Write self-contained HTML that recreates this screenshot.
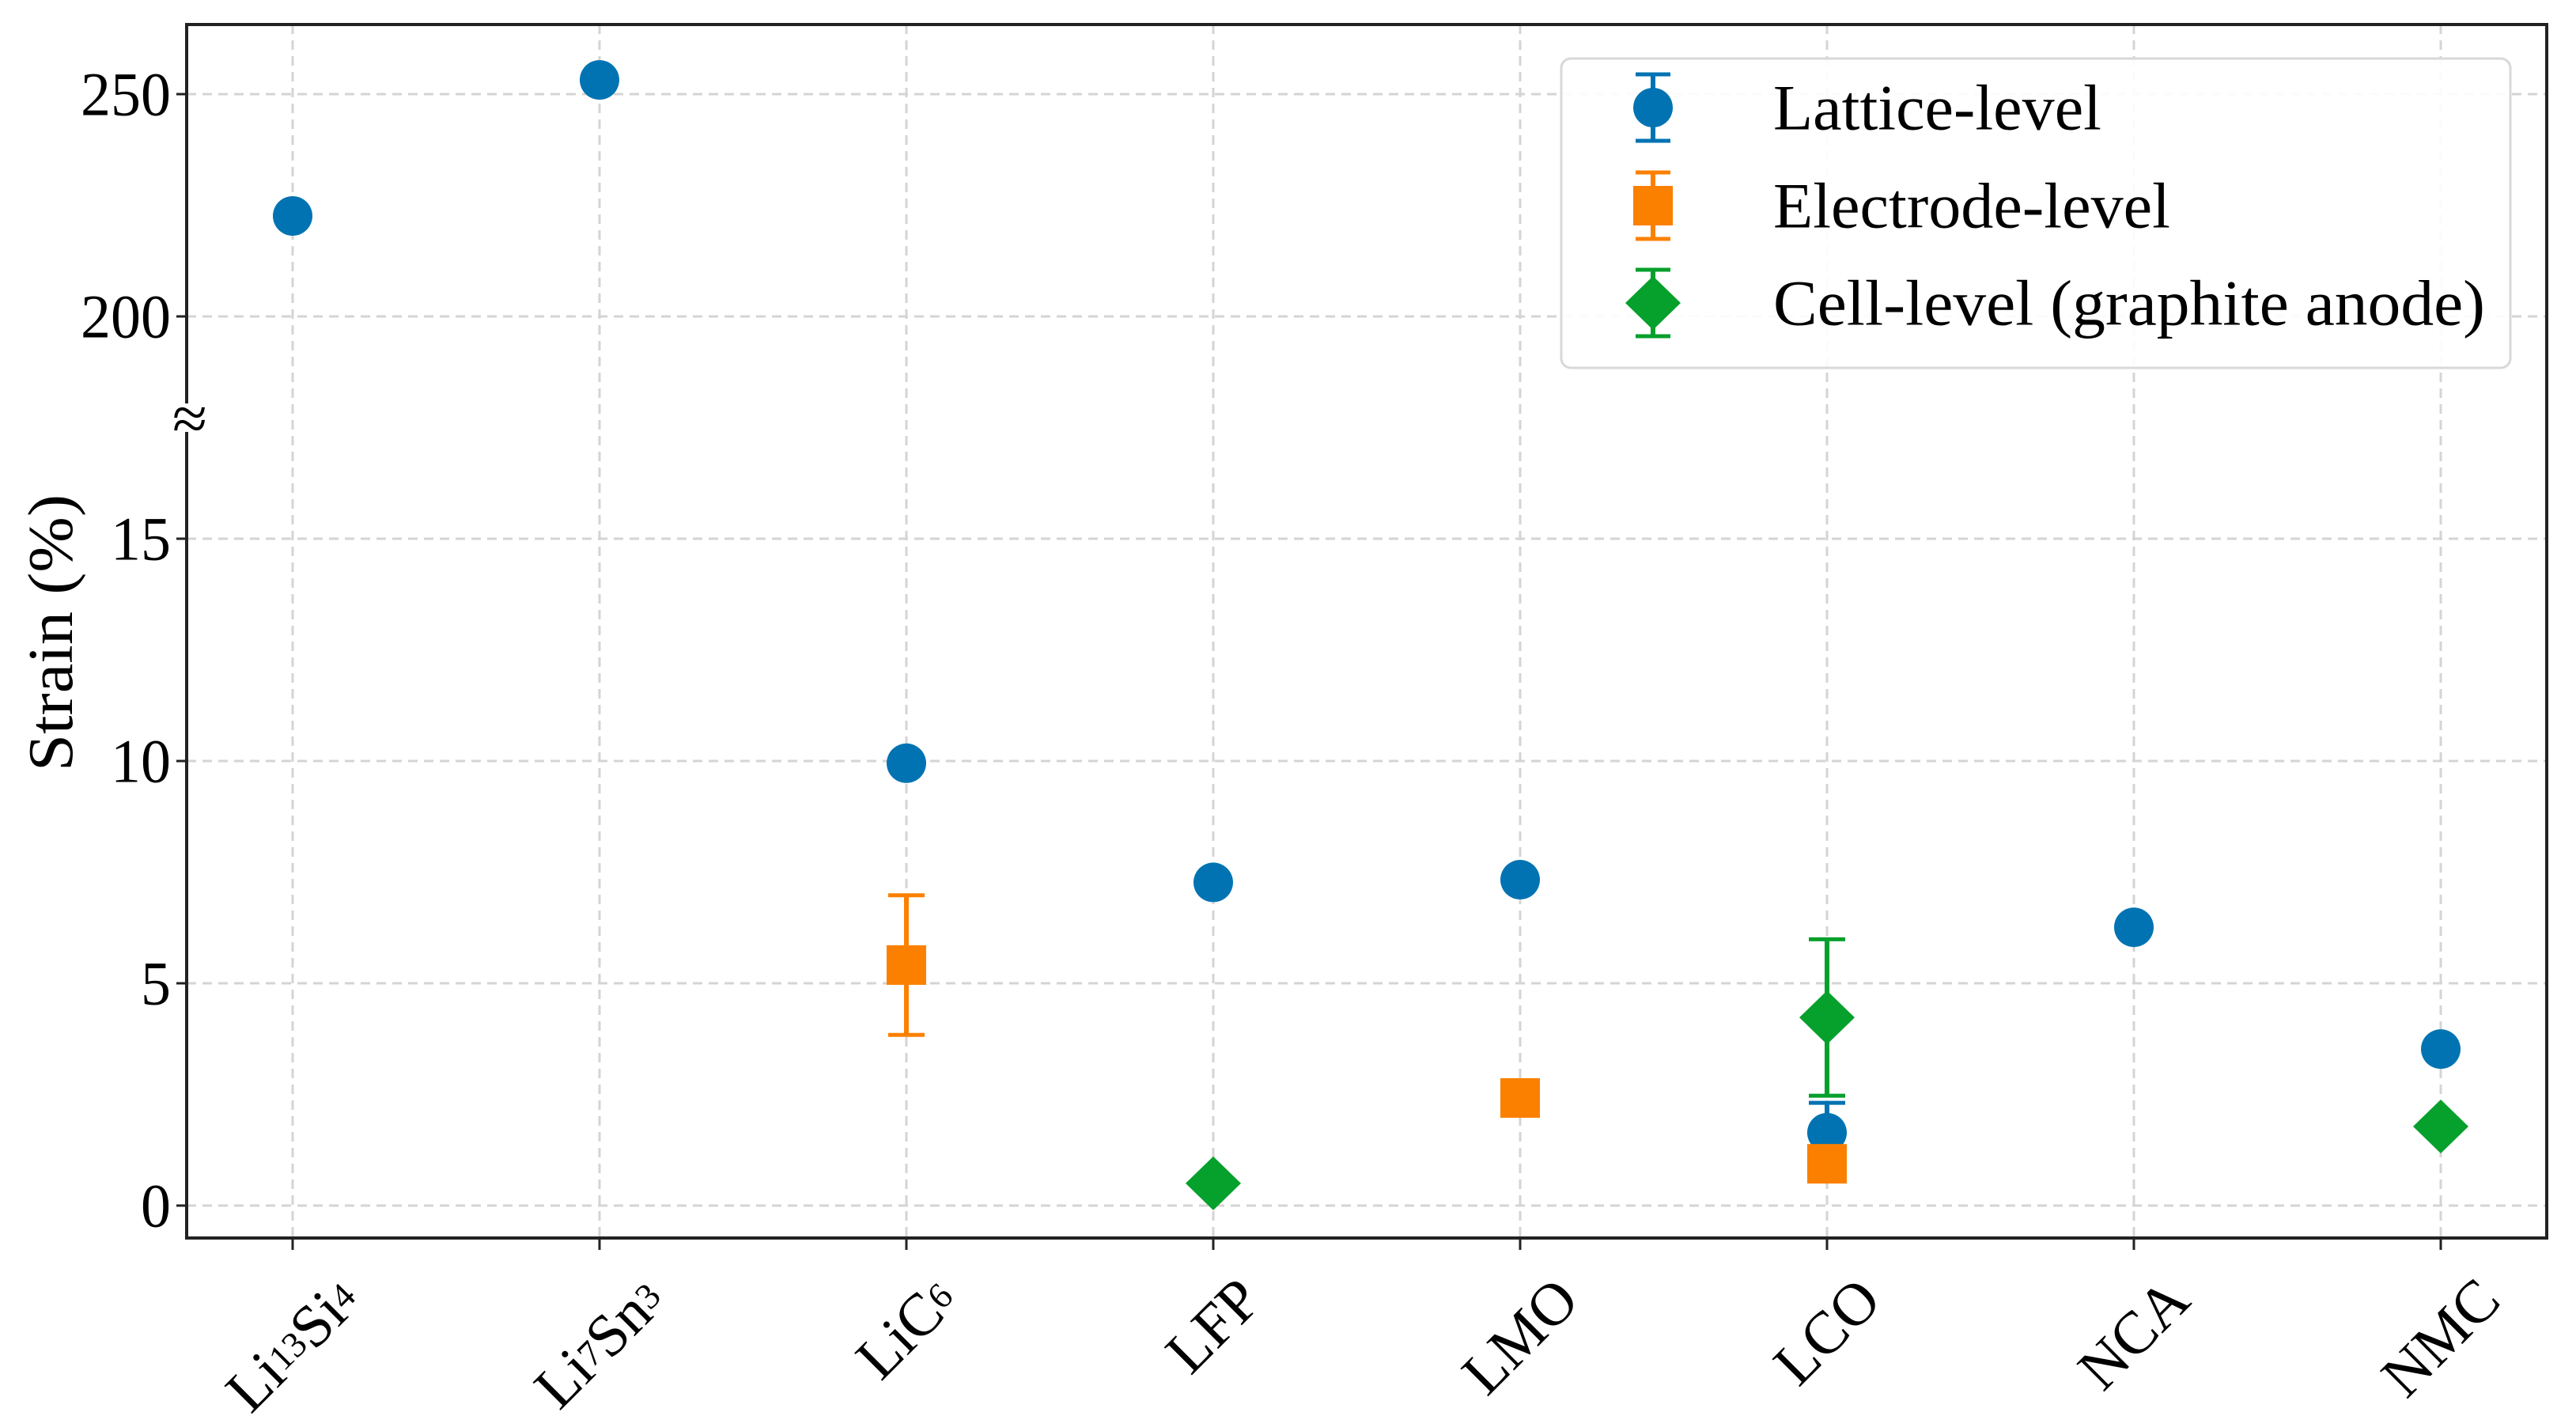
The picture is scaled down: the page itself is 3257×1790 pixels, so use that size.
<!DOCTYPE html>
<html><head><meta charset="utf-8">
<style>
html,body{margin:0;padding:0;background:#fff;}
svg{display:block;}
text{font-family:"Liberation Serif","DejaVu Serif",serif;fill:#000;}
</style></head>
<body>
<svg id="chart" width="3257" height="1790" viewBox="0 0 3257 1790" xmlns="http://www.w3.org/2000/svg">
<g id="grid"></g>
<g id="axes"></g>
<g id="marks"></g>
<g id="legend"></g>
</svg>
<script>
const categories = ["Li13Si4","Li7Sn3","LiC6","LFP","LMO","LCO","NCA","NMC"];
const catLabels = [["Li","13","Si","4"],["Li","7","Sn","3"],["Li","C","6"],["LFP"],["LMO"],["LCO"],["NCA"],["NMC"]];
const latticeCats = ["Li13Si4","Li7Sn3","LiC6","LFP","LMO","LCO","NCA","NMC"];
const latticeVals = [222.6, 253.2, 9.95, 7.27, 7.33, 1.64, 6.26, 3.52];
const latticeErr = [0, 0, 0, 0, 0, 0.67, 0, 0];
const electrodeCats = ["LiC6","LMO","LCO"];
const electrodeVals = [5.41, 2.42, 0.94];
const electrodeErr = [1.57, 0, 0];
const cellCats = ["LFP","LCO","NMC"];
const cellVals = [0.5, 4.23, 1.78];
const cellErr = [0, 1.76, 0];
const yTicks = [0, 5, 10, 15, 200, 250];
const yTickLabels = ["0","5","10","15","200","250"];
const legendLabels = ["Lattice-level","Electrode-level","Cell-level (graphite anode)"];

const NS = "http://www.w3.org/2000/svg";
const L = 236, R = 3220, T = 31, B = 1565;
const Y0 = 1524, PX = 56.2;
const BLUE = "#0173b2", ORANGE = "#fc8000", GREEN = "#06a02c";
function xPos(cat){ return 370 + 388 * categories.indexOf(cat); }
function yPos(v){ const s = v > 20 ? v / 10 : v; return Y0 - PX * s; }
function mk(tag, attrs, parent){
  const e = document.createElementNS(NS, tag);
  for (const k in attrs) e.setAttribute(k, attrs[k]);
  parent.appendChild(e); return e;
}
const grid = document.getElementById("grid"), axes = document.getElementById("axes"),
      marks = document.getElementById("marks"), legend = document.getElementById("legend");

categories.forEach(c => {
  const g = mk("line", {x1:xPos(c), x2:xPos(c), y1:T, y2:B, stroke:"#d4d4d4", "stroke-width":3, "stroke-dasharray":"12,8"}, grid);
  
  
});
yTicks.forEach((v, i) => {
  const y = yPos(v);
  const g = mk("line", {x1:L, x2:R, y1:y, y2:y, stroke:"#d4d4d4", "stroke-width":3, "stroke-dasharray":"12,8"}, grid);
  
  
  const t = mk("line", {x1:L - 13, x2:L, y1:y, y2:y, stroke:"#222", "stroke-width":3}, axes);
  
  
  const lb = mk("text", {x:216, y:y, "text-anchor":"end", "dominant-baseline":"central", "font-size":78,
    textLength: 38 * yTickLabels[i].length, lengthAdjust:"spacingAndGlyphs"}, axes);
  lb.textContent = yTickLabels[i];
  
  
});
const fr = mk("rect", {x:L, y:T, width:R - L, height:B - T, fill:"none", stroke:"#222", "stroke-width":4}, axes);


const brk = mk("rect", {x:L - 10, y:510, width:20, height:36, fill:"#fff"}, axes);


const bs = mk("text", {x:L + 4, y:530, "text-anchor":"middle", "dominant-baseline":"central", "font-size":80}, axes);
bs.textContent = "≈";


const yt = mk("text", {x:65, y:800, "text-anchor":"middle", "dominant-baseline":"central", "font-size":80,
  textLength:350, lengthAdjust:"spacingAndGlyphs", transform:"rotate(-90 65 800)"}, axes);
yt.textContent = "Strain (%)";



categories.forEach((c, i) => {
  const x = xPos(c);
  const t = mk("line", {x1:x, x2:x, y1:B, y2:B + 15, stroke:"#222", "stroke-width":3}, axes);
  
  
  const tx = mk("text", {x:0, y:0, "text-anchor":"middle", "dominant-baseline":"central", "font-size":76}, axes);
  
  
  catLabels[i].forEach(p => {
    const sp = mk("tspan", {}, tx);
    if (/^\d+$/.test(p)) { sp.setAttribute("font-size", 46); }
    sp.textContent = p;
  });
  tx.setAttribute("transform", "translate(" + x + " 0) rotate(-45)");
  const bb = tx.getBoundingClientRect();
  const cx = bb.left + bb.width / 2, top = bb.top;
  tx.setAttribute("transform", "translate(" + (2 * x - cx) + " " + (1600 - top) + ") rotate(-45)");
});

function errbar(x, v, e, color){
  if (!e) return;
  const y1 = yPos(v + e), y2 = yPos(v - e);
  const l = mk("line", {x1:x, x2:x, y1:y1, y2:y2, stroke:color, "stroke-width":6}, marks);
  
  
  [y1, y2].forEach(y => {
    const c = mk("line", {x1:x - 23, x2:x + 23, y1:y, y2:y, stroke:color, "stroke-width":5}, marks);
    
    
  });
}
function circle(x, y, color, parent){ return mk("circle", {cx:x, cy:y, r:25, fill:color}, parent); }
function square(x, y, color, parent){ return mk("rect", {x:x - 25, y:y - 25, width:50, height:50, fill:color}, parent); }
function diamond(x, y, color, parent){
  return mk("polygon", {points:[x,y-34, x+35,y, x,y+34, x-35,y].join(" "), fill:color}, parent);
}
latticeCats.forEach((c, i) => { errbar(xPos(c), latticeVals[i], latticeErr[i], BLUE); });
latticeCats.forEach((c, i) => {
  const m = circle(xPos(c), yPos(latticeVals[i]), BLUE, marks);
  
  
});
electrodeCats.forEach((c, i) => {
  errbar(xPos(c), electrodeVals[i], electrodeErr[i], ORANGE);
  const m = square(xPos(c), yPos(electrodeVals[i]), ORANGE, marks);
  
  
});
cellCats.forEach((c, i) => {
  errbar(xPos(c), cellVals[i], cellErr[i], GREEN);
  const m = diamond(xPos(c), yPos(cellVals[i]), GREEN, marks);
  
  
});

const lb = mk("rect", {x:1974, y:74, width:1200, height:391, rx:12, fill:"#fff", "fill-opacity":0.9, stroke:"#d8d8d8", "stroke-width":3}, legend);


const rowsY = [136, 260, 383];
const cols = [BLUE, ORANGE, GREEN];
const shapes = [circle, square, diamond];
const names = ["legend-entry-lattice","legend-entry-electrode","legend-entry-cell"];
const legendWidths = [415, 502, 900];
rowsY.forEach((y, i) => {
  const g = mk("g", {}, legend);
  
  
  const x = 2090;
  mk("line", {x1:x, x2:x, y1:y - 42, y2:y + 42, stroke:cols[i], "stroke-width":6}, g);
  mk("line", {x1:x - 22, x2:x + 22, y1:y - 42, y2:y - 42, stroke:cols[i], "stroke-width":5}, g);
  mk("line", {x1:x - 22, x2:x + 22, y1:y + 42, y2:y + 42, stroke:cols[i], "stroke-width":5}, g);
  shapes[i](x, y, cols[i], g);
  const t = mk("text", {x:2242, y:y, "dominant-baseline":"central", "font-size":82,
    textLength:legendWidths[i], lengthAdjust:"spacingAndGlyphs"}, g);
  t.textContent = legendLabels[i];
  
  
});
</script>
</body></html>
